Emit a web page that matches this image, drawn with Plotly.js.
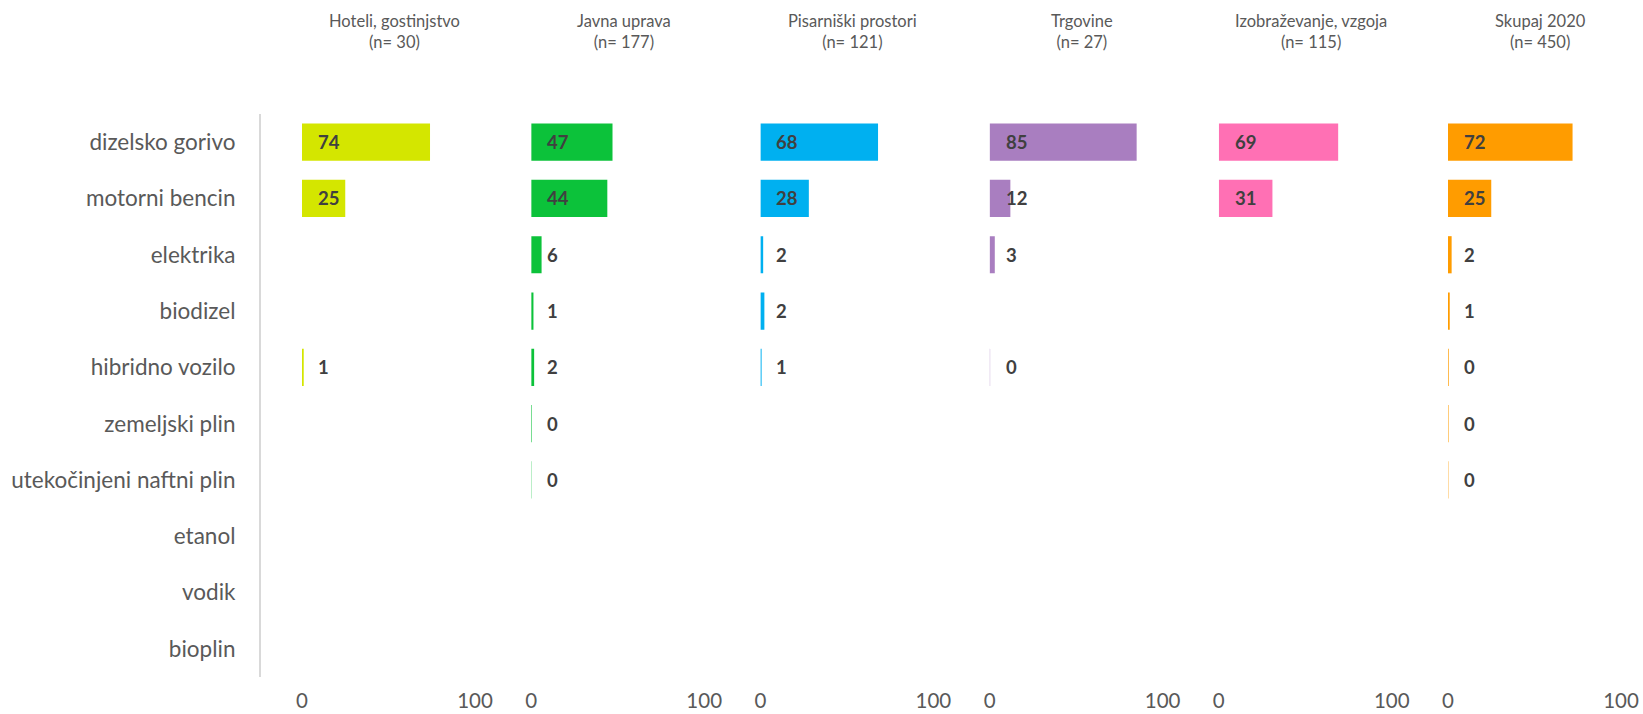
<!DOCTYPE html>
<html>
<head>
<meta charset="utf-8">
<script src="https://cdn.plot.ly/plotly-3.0.1.min.js"></script>
<style>html,body{margin:0;padding:0;background:#fff;}#chart{width:1643px;height:714px;}</style>
</head>
<body>
<div id="chart"></div>
<script>
// ---- data ----
const categories = ['dizelsko gorivo','motorni bencin','elektrika','biodizel','hibridno vozilo','zemeljski plin','utekočinjeni naftni plin','etanol','vodik','bioplin'];
const panelNames = ['Hoteli, gostinjstvo','Javna uprava','Pisarniški prostori','Trgovine','Izobraževanje, vzgoja','Skupaj 2020'];
const panelN = [30, 177, 121, 27, 115, 450];
const hoteli = [74, 25, null, null, 1.0, null, null, null, null, null];
const javnaUprava = [47, 44, 6, 1.3, 1.7, 0.4, 0.2, null, null, null];
const pisarniski = [68, 28, 1.6, 2.3, 0.7, null, null, null, null, null];
const trgovine = [85, 12, 3, null, 0.3, null, null, null, null, null];
const izobrazevanje = [69, 31, null, null, null, null, null, null, null, null];
const skupaj2020 = [72, 25, 2.1, 1.0, 0.4, 0.3, 0.2, null, null, null];
const xTicks = [0, 100];

// ---- styles ----
const series = [hoteli, javnaUprava, pisarniski, trgovine, izobrazevanje, skupaj2020];
const colors = ['#D4E600', '#0CC23A', '#00B0F0', '#A97EC0', '#FF70B4', '#FF9C00'];
const W = 1643, H = 714;
const panelStart = 302, panelStep = 229.2, panelWidth = 173;
const plotTop = 114, plotBottom = 677;
const textGray = '#595959';
const fontFam = 'Lato, "Open Sans", sans-serif';

const traces = [];
const annotations = [];
const layout = {
  width: W, height: H,
  margin: {l: 0, r: 0, t: 0, b: 0},
  paper_bgcolor: '#ffffff', plot_bgcolor: 'rgba(0,0,0,0)',
  showlegend: false,
  bargap: 0.34,
  yaxis: {
    domain: [1 - plotBottom / H, 1 - plotTop / H],
    type: 'category',
    categoryorder: 'array', categoryarray: categories,
    autorange: 'reversed',
    anchor: 'free', position: 259 / W,
    showline: true, linecolor: '#D9D9D9', linewidth: 1.5,
    showgrid: false, zeroline: false, ticks: '',
    ticklabelstandoff: 19,
    tickfont: {family: fontFam, size: 22.5, color: textGray}
  },
  annotations: annotations
};

series.forEach((vals, i) => {
  const axName = i === 0 ? 'x' : 'x' + (i + 1);
  const layoutKey = i === 0 ? 'xaxis' : 'xaxis' + (i + 1);
  const x0 = panelStart + panelStep * i;
  layout[layoutKey] = {
    domain: [x0 / W, (x0 + panelWidth) / W],
    range: [0, 100],
    tickvals: xTicks, ticktext: xTicks.map(String),
    showgrid: false, zeroline: false, showline: false, ticks: '',
    ticklabelstandoff: 9,
    anchor: 'y',
    tickfont: {family: fontFam, size: 20.5, color: textGray}
  };
  traces.push({
    type: 'bar', orientation: 'h',
    x: vals, y: categories,
    xaxis: axName, yaxis: 'y',
    marker: {color: colors[i], line: {width: 0}},
    hoverinfo: 'none'
  });
  vals.forEach((v, k) => {
    if (v === null) return;
    annotations.push({
      xref: axName, yref: 'y', x: 0, y: categories[k],
      xanchor: 'left', yanchor: 'middle', xshift: 14,
      text: '<b>' + Math.round(v) + '</b>', showarrow: false,
      font: {family: fontFam, size: 18.5, color: '#404040'}
    });
  });
  annotations.push({
    xref: axName + ' domain', yref: 'paper', x: 0.5, xshift: 6,
    y: 1 - 32 / H, xanchor: 'center', yanchor: 'middle',
    text: panelNames[i] + '<br>(n= ' + panelN[i] + ')', showarrow: false,
    font: {family: fontFam, size: 16.5, color: textGray}
  });
});

Plotly.newPlot('chart', traces, layout, {staticPlot: true, displayModeBar: false});
</script>
</body>
</html>
